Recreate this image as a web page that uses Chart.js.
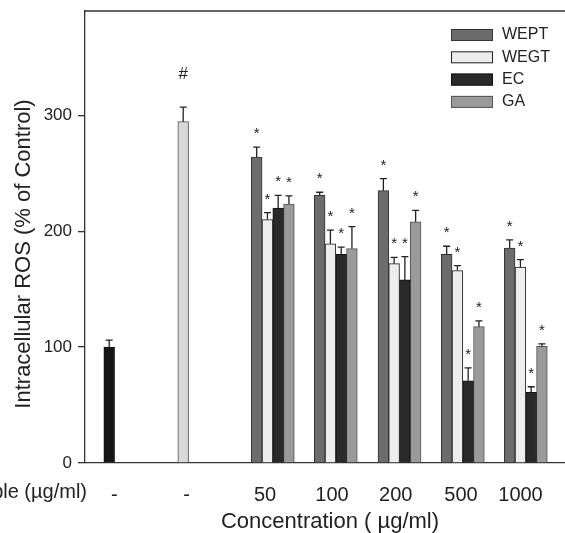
<!DOCTYPE html>
<html>
<head>
<meta charset="UTF-8">
<title>Intracellular ROS</title>
<script src="https://cdn.jsdelivr.net/npm/chart.js@4.4.1/dist/chart.umd.min.js"></script>
<style>
  body { margin: 0; background: #fff; }
  #wrap { width: 565px; height: 533px; }
</style>
</head>
<body>
<div id="wrap"><canvas id="rosChart"></canvas></div>
<script>
// bottom row labels
const doseLabels = ['-', '-', '50', '100', '200', '500', '1000'];
const seriesNames = ['WEPT', 'WEGT', 'EC', 'GA'];
const yTicks = [0, 100, 200, 300];

// intracellular ROS, % of control, one slot per dose
const controlVals = [100, null, null, null, null, null, null];
const controlErr  = [6, null, null, null, null, null, null];
const h2o2Vals    = [null, 294.5, null, null, null, null, null];
const h2o2Err     = [null, 12.5, null, null, null, null, null];
const weptVals = [null, null, 264, 231, 235, 180, 185.5];
const weptErr  = [null, null, 8.5, 2.6, 10.4, 7, 7];
const wegtVals = [null, null, 210, 189, 172, 166, 169];
const wegtErr  = [null, null, 6, 12, 5.5, 4.3, 6.4];
const ecVals   = [null, null, 220, 180, 158, 71, 61];
const ecErr    = [null, null, 11, 6.3, 20, 11, 4.8];
const gaVals   = [null, null, 223.5, 185, 208, 117.6, 100.7];
const gaErr    = [null, null, 7, 19, 10, 5, 2];

// significance marks
const h2o2Marks  = [null, '#', null, null, null, null, null];
const treatMarks = [null, null, '*', '*', '*', '*', '*'];

// layout: where each dose slot sits on the x scale, and where its label goes
const slotX  = [2.42, 9.82, 18.78, 25.08, 31.45, 37.78, 44.08];
const labelX = [2.93, 10.17, 18.0, 24.7, 31.07, 37.6, 43.55];

const FONT = '"Liberation Sans", Arial, Helvetica, sans-serif';
const TXT = '#222';

function pts(vals) {
  return vals.map((v, i) => ({ x: slotX[i], y: v }));
}

function ds(label, vals, errs, marks, fill, border, inLegend) {
  return {
    label: label,
    data: pts(vals),
    errs: errs,
    marks: marks,
    inLegend: inLegend,
    backgroundColor: fill,
    borderColor: border,
    borderWidth: 1,
    borderSkipped: 'start',
    barThickness: 10.75
  };
}

const datasets = [
  ds('Control', controlVals, controlErr, [], '#151515', '#111', false),
  ds('H2O2', h2o2Vals, h2o2Err, h2o2Marks, '#d8d8d8', '#555', false),
  ds(seriesNames[0], weptVals, weptErr, treatMarks, '#6c6c6c', '#333', true),
  ds(seriesNames[1], wegtVals, wegtErr, treatMarks, '#ededed', '#222', true),
  ds(seriesNames[2], ecVals, ecErr, treatMarks, '#2a2a2a', '#111', true),
  ds(seriesNames[3], gaVals, gaErr, treatMarks, '#9a9a9a', '#555', true)
];

// error whiskers (upper only) + significance marks
const errPlugin = {
  id: 'errPlugin',
  afterDatasetsDraw(chart) {
    const ctx = chart.ctx;
    const ys = chart.scales.y;
    ctx.save();
    chart.data.datasets.forEach((d, di) => {
      const meta = chart.getDatasetMeta(di);
      meta.data.forEach((bar, i) => {
        const v = d.data[i].y;
        if (v == null) return;
        const e = d.errs[i] || 0;
        const top = ys.getPixelForValue(v + e);
        ctx.strokeStyle = '#222';
        ctx.lineWidth = 1.3;
        ctx.beginPath();
        ctx.moveTo(bar.x, bar.y);
        ctx.lineTo(bar.x, top);
        ctx.moveTo(bar.x - 3.5, top);
        ctx.lineTo(bar.x + 3.5, top);
        ctx.stroke();
        const m = d.marks[i];
        if (m) {
          ctx.fillStyle = TXT;
          ctx.textAlign = 'center';
          ctx.textBaseline = 'middle';
          if (m === '#') {
            ctx.font = '17px ' + FONT;
            ctx.fillText(m, bar.x, top - 33);
          } else {
            ctx.font = '15px ' + FONT;
            ctx.fillText(m, bar.x, top - 13);
          }
        }
      });
    });
    ctx.restore();
  }
};

// frame top line, axis titles, row label, legend
const decorPlugin = {
  id: 'decorPlugin',
  afterDraw(chart) {
    const ctx = chart.ctx;
    const a = chart.chartArea;
    ctx.save();
    ctx.strokeStyle = '#333';
    ctx.lineWidth = 1.3;
    ctx.beginPath();
    ctx.moveTo(a.left, a.top);
    ctx.lineTo(a.right, a.top);
    ctx.stroke();

    ctx.fillStyle = TXT;
    ctx.textBaseline = 'middle';

    ctx.font = '20px ' + FONT;
    ctx.textAlign = 'right';
    ctx.fillText('Sample (\u00b5g/ml)', 87, 492);

    ctx.font = '22px ' + FONT;
    ctx.textAlign = 'center';
    ctx.fillText('Concentration ( \u00b5g/ml)', 330, 522);

    ctx.save();
    ctx.translate(24, 254);
    ctx.rotate(-Math.PI / 2);
    ctx.fillText('Intracellular ROS (% of Control)', 0, 0);
    ctx.restore();

    // legend
    let row = 0;
    chart.data.datasets.forEach(d => {
      if (!d.inLegend) return;
      const cy = 35 + row * 22.3;
      ctx.fillStyle = d.backgroundColor;
      ctx.fillRect(451, cy - 6, 42, 12);
      ctx.strokeStyle = d.borderColor;
      ctx.lineWidth = 1;
      ctx.strokeRect(451.5, cy - 5.5, 41, 11);
      ctx.fillStyle = TXT;
      ctx.font = '16px ' + FONT;
      ctx.textAlign = 'left';
      ctx.fillText(d.label, 502, cy);
      row++;
    });
    ctx.restore();
  }
};

new Chart('rosChart', {
  type: 'bar',
  data: { datasets: datasets },
  options: {
    responsive: true,
    maintainAspectRatio: false,
    animation: false,
    skipNull: true,
    layout: { padding: { top: 11, right: 0, left: 0, bottom: 0 } },
    plugins: {
      legend: { display: false },
      tooltip: { enabled: false }
    },
    scales: {
      x: {
        type: 'linear',
        min: 0,
        max: 48,
        offset: false,
        grid: { display: false },
        border: { display: true, color: '#333', width: 1.3 },
        afterFit: s => { s.height = 70; s.paddingLeft = 0; s.paddingRight = 0; },
        afterBuildTicks: s => { s.ticks = labelX.map(v => ({ value: v })); },
        ticks: {
          autoSkip: false,
          maxRotation: 0,
          padding: 12,
          color: TXT,
          font: { family: FONT, size: 20 },
          callback: (v, i) => doseLabels[i]
        }
      },
      y: {
        min: 0,
        max: 390,
        grid: { display: true, drawOnChartArea: false, drawTicks: true, tickLength: 7, color: '#333', lineWidth: 1.3 },
        border: { display: true, color: '#333', width: 1.3 },
        afterFit: s => { s.width = 85; s.paddingTop = 0; s.paddingBottom = 0; },
        afterBuildTicks: s => { s.ticks = yTicks.map(v => ({ value: v })); },
        ticks: {
          padding: 6,
          color: TXT,
          font: { family: FONT, size: 17 }
        }
      }
    }
  },
  plugins: [errPlugin, decorPlugin]
});
</script>
</body>
</html>
